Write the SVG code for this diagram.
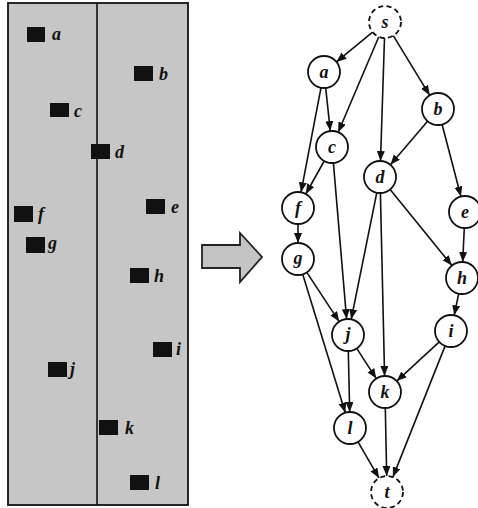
<svg xmlns="http://www.w3.org/2000/svg" width="478" height="508" viewBox="0 0 478 508">
<defs>
<marker id="ah" markerUnits="userSpaceOnUse" markerWidth="11" markerHeight="9" refX="10" refY="4" orient="auto">
<path d="M0,0 L10,4 L0,8 z" fill="#111"/>
</marker>
<style>
.sq{fill:#111}
.lb{font-family:"Liberation Serif",serif;font-style:italic;font-weight:bold;font-size:18px;fill:#111}
.nd{fill:#fff;stroke:#111;stroke-width:1.8}
.ds{fill:#fff;stroke:#111;stroke-width:1.8;stroke-dasharray:5,3.5}
.nt{font-family:"Liberation Serif",serif;font-style:italic;font-weight:bold;font-size:18px;fill:#111;text-anchor:middle}
.ed{stroke:#111;stroke-width:1.6;fill:none;marker-end:url(#ah)}
</style>
</defs>
<rect width="478" height="508" fill="#fff"/>
<g id="panel">
<rect x="8" y="3" width="180" height="502" fill="#c6c6c6" stroke="#111" stroke-width="1.8"/>
<line x1="97" y1="3" x2="97" y2="505" stroke="#111" stroke-width="1.6"/>
</g>
<g id="pa"><rect class="sq" x="27" y="27" width="18" height="15"/><text class="lb" x="52" y="40">a</text></g>
<g id="pb"><rect class="sq" x="134" y="66" width="19" height="15"/><text class="lb" x="159" y="80">b</text></g>
<g id="pc"><rect class="sq" x="50" y="103" width="19" height="14"/><text class="lb" x="74" y="117">c</text></g>
<g id="pd"><rect class="sq" x="91" y="144" width="19" height="15"/><text class="lb" x="115" y="158">d</text></g>
<g id="pe"><rect class="sq" x="146" y="199" width="19" height="15"/><text class="lb" x="171" y="213">e</text></g>
<g id="pf"><rect class="sq" x="14" y="206" width="19" height="16"/><text class="lb" x="38" y="220">f</text></g>
<g id="pg"><rect class="sq" x="26" y="237" width="19" height="16"/><text class="lb" x="48" y="249">g</text></g>
<g id="ph"><rect class="sq" x="130" y="268" width="19" height="15"/><text class="lb" x="154" y="282">h</text></g>
<g id="pi"><rect class="sq" x="153" y="342" width="19" height="15"/><text class="lb" x="176" y="355">i</text></g>
<g id="pj"><rect class="sq" x="48" y="362" width="19" height="15"/><text class="lb" x="70" y="375">j</text></g>
<g id="pk"><rect class="sq" x="99" y="420" width="19" height="15"/><text class="lb" x="125" y="434">k</text></g>
<g id="pl"><rect class="sq" x="130" y="475" width="19" height="15"/><text class="lb" x="155" y="489">l</text></g>
<g id="bigarrow">
<path d="M202,245 L240,245 L240,233 L262,257 L240,282 L240,268 L202,268 Z" fill="#c4c4c4" stroke="#222" stroke-width="1.8" stroke-linejoin="miter"/>
</g>
<g id="connectors">
<line class="ed" x1="372.6" y1="32.1" x2="336.4" y2="61.9"/>
<line class="ed" x1="378.8" y1="36.7" x2="338.2" y2="132.3"/>
<line class="ed" x1="384.5" y1="38" x2="380.5" y2="161"/>
<line class="ed" x1="393.3" y1="35.7" x2="429.7" y2="95.3"/>
<line class="ed" x1="325.7" y1="87.9" x2="330.3" y2="131.1"/>
<line class="ed" x1="321" y1="87.7" x2="301" y2="192.3"/>
<line class="ed" x1="427.6" y1="121.2" x2="390.4" y2="164.8"/>
<line class="ed" x1="442.1" y1="124.5" x2="460.9" y2="196.5"/>
<line class="ed" x1="324.2" y1="161" x2="305.8" y2="194"/>
<line class="ed" x1="333.4" y1="162.9" x2="346.6" y2="319.1"/>
<line class="ed" x1="376.8" y1="192.7" x2="351.2" y2="319.3"/>
<line class="ed" x1="390.1" y1="189.4" x2="451.9" y2="265.6"/>
<line class="ed" x1="380.4" y1="193" x2="384.6" y2="376"/>
<line class="ed" x1="298" y1="224" x2="298" y2="243"/>
<line class="ed" x1="464.3" y1="228" x2="462.7" y2="262"/>
<line class="ed" x1="306.8" y1="272.4" x2="339.2" y2="321.6"/>
<line class="ed" x1="302.7" y1="274.3" x2="345.3" y2="412.7"/>
<line class="ed" x1="458.7" y1="293.7" x2="454.2" y2="315.3"/>
<line class="ed" x1="439.3" y1="341.9" x2="396.7" y2="381.1"/>
<line class="ed" x1="445.1" y1="345.9" x2="392.9" y2="477.1"/>
<line class="ed" x1="356.7" y1="348.4" x2="376.3" y2="378.6"/>
<line class="ed" x1="348.3" y1="351" x2="349.7" y2="412"/>
<line class="ed" x1="385.3" y1="408" x2="386.7" y2="476"/>
<line class="ed" x1="358" y1="441.9" x2="379" y2="478.1"/>
</g>
<g id="s"><circle class="ds" cx="385" cy="22" r="16"/><text class="nt" x="385" y="28">s</text></g>
<g id="a"><circle class="nd" cx="324" cy="72" r="16"/><text class="nt" x="324" y="78">a</text></g>
<g id="b"><circle class="nd" cx="438" cy="109" r="16"/><text class="nt" x="438" y="115">b</text></g>
<g id="c"><circle class="nd" cx="332" cy="147" r="16"/><text class="nt" x="332" y="153">c</text></g>
<g id="d"><circle class="nd" cx="380" cy="177" r="16"/><text class="nt" x="380" y="183">d</text></g>
<g id="e"><circle class="nd" cx="465" cy="212" r="16"/><text class="nt" x="465" y="218">e</text></g>
<g id="f"><circle class="nd" cx="298" cy="208" r="16"/><text class="nt" x="298" y="214">f</text></g>
<g id="g"><circle class="nd" cx="298" cy="259" r="16"/><text class="nt" x="298" y="264">g</text></g>
<g id="h"><circle class="nd" cx="462" cy="278" r="16"/><text class="nt" x="462" y="284">h</text></g>
<g id="i"><circle class="nd" cx="451" cy="331" r="16"/><text class="nt" x="451" y="337">i</text></g>
<g id="j"><circle class="nd" cx="348" cy="335" r="16"/><text class="nt" x="348" y="340">j</text></g>
<g id="k"><circle class="nd" cx="385" cy="392" r="16"/><text class="nt" x="385" y="398">k</text></g>
<g id="l"><circle class="nd" cx="350" cy="428" r="16"/><text class="nt" x="350" y="434">l</text></g>
<g id="t"><circle class="ds" cx="387" cy="492" r="16"/><text class="nt" x="387" y="498">t</text></g>
</svg>
